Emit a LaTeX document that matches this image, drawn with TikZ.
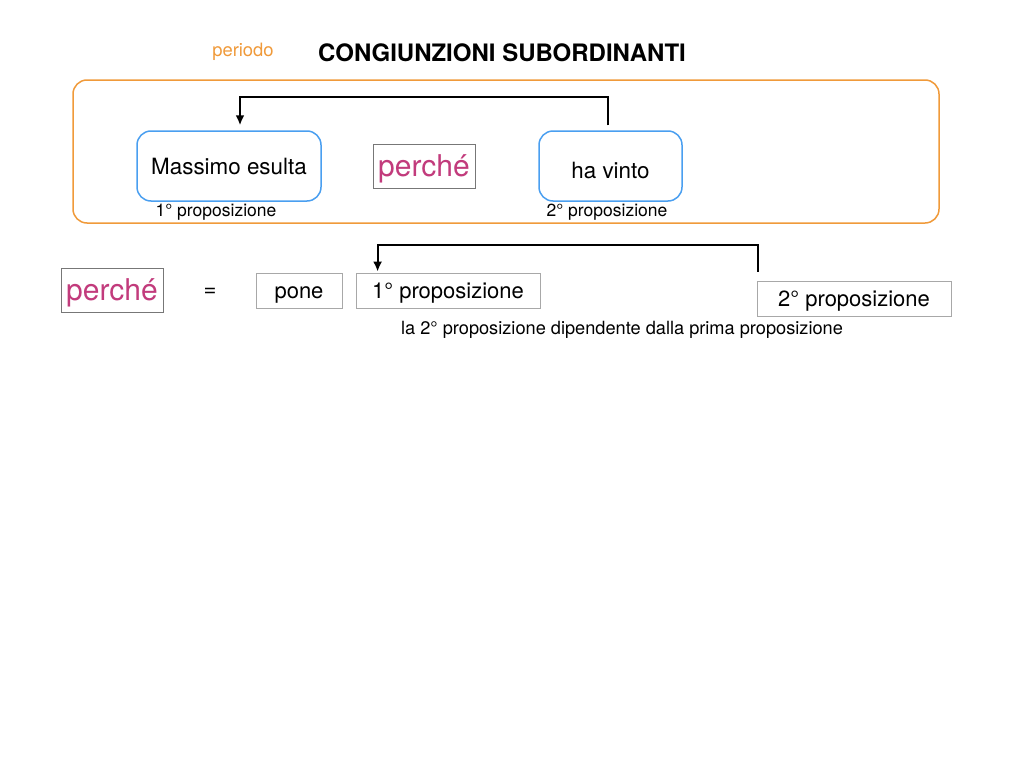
\documentclass[tikz,border=0pt]{standalone}
\usepackage{fontspec}
\setmainfont{TeX Gyre Heros}
\usetikzlibrary{calc,arrows.meta}
\definecolor{arancio}{HTML}{F09A3A}
\definecolor{blu}{HTML}{4A9FF0}
\definecolor{magenta}{HTML}{C23B7C}
\definecolor{grigio}{HTML}{777777}
\definecolor{grigiochiaro}{HTML}{A8A8A8}
\newcommand{\fs}[1]{\fontsize{#1}{#1}\selectfont}
\tikzset{
	frase/.style={draw=blu,line width=1.5pt,rounded corners=14pt,minimum height=70pt,text height=16pt,text depth=0pt,font=\fs{22.4}},
	cong/.style={draw=grigio,line width=1pt,text=magenta,minimum width=102pt,minimum height=44pt,inner sep=0pt,text height=21.6pt,text depth=0pt,font=\fs{30}},
	casella/.style={draw=grigiochiaro,line width=.8pt,minimum height=35pt,inner sep=0pt,text height=15.8pt,text depth=0pt,font=\fs{22}},
	scritta/.style={inner sep=0pt,anchor=base,font=\fs{#1}},
	freccia/.style={-{Latex[length=10pt,width=9pt]},line width=2pt}
}
\begin{document}
\begin{tikzpicture}[x=1pt,y=-1pt]
	\useasboundingbox[fill=white] (0,0) rectangle (1024,768);
	\node[scritta=18.4,text=arancio] (periodo) at (243,56.5) {periodo};
	\node[scritta=24,font=\fs{24}\bfseries] (titolo) at (502,61.5) {CONGIUNZIONI SUBORDINANTI};
	\draw[arancio,line width=1.5pt,rounded corners=14pt] (73,80) rectangle (939,223);
	% periodo
	\node[frase,minimum width=184pt] (massimo) at (229,166) {Massimo esulta};
	\node[cong] (perche) at (424,166) {perché};
	\node[frase,minimum width=143pt] (havinto) at (610.5,166) {\raisebox{-4pt}{ha vinto}};
	\node[scritta=17.5] (prima) at (216,216.5) {1° proposizione};
	\node[scritta=17.5] (seconda) at (607,216.5) {2° proposizione};
	\coordinate (arrivo) at ($(massimo.north)+(11,0)$);
	\draw[freccia,shorten <=5pt,shorten >=5pt] ($(havinto.north)+(-2.5,0)$) -- ++(0,-33) -| (arrivo);
	% spiegazione
	\node[cong] (perche2) at (112,290) {perché};
	\node[scritta=22,anchor=center] (uguale) at (210,292) {=};
	\node[casella,minimum width=86pt] (pone) at (299,290.5) {pone};
	\node[casella,minimum width=184pt] (prop1) at (448,290.5) {1° proposizione};
	\node[casella,minimum width=194pt] (prop2) at (854,298.5) {2° proposizione};
	\node[scritta=18.2] (nota) at (622,334.3) {la 2° proposizione dipendente dalla prima proposizione};
	\coordinate (arrivo2) at ($(prop1.north west)+(22,0)$);
	\draw[freccia,shorten <=9pt,shorten >=1pt] ($(prop2.north west)+(1,0)$) -- ++(0,-36) -| (arrivo2);
\end{tikzpicture}
\end{document}
